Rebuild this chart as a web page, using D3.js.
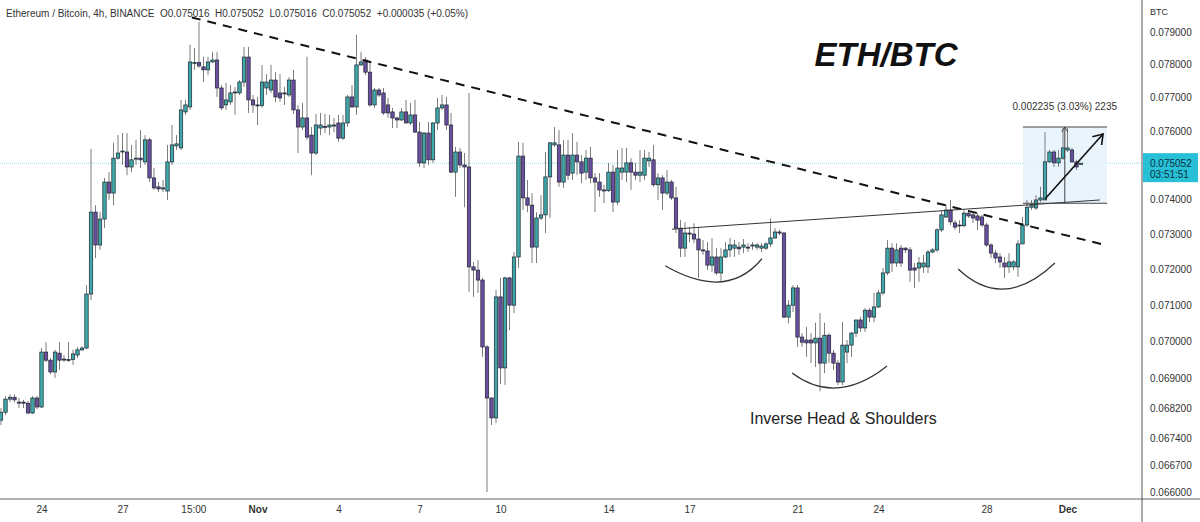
<!DOCTYPE html>
<html lang="en">
<head>
<meta charset="UTF-8">
<title>ETH/BTC 4h</title>
<script src="https://d3js.org/d3.v7.min.js"></script>
<style>
  body { margin: 0; background: #fff; }
  svg { display: block; font-family: "Liberation Sans", Arial, sans-serif; }
</style>
</head>
<body>
<div id="chart"></div>
<script>
const width = 1200;
const height = 522;

// first visible 4h bar, bars are 4 hours apart
const firstBar = Date.UTC(2022, 9, 22, 12);
const barMs = 4 * 3600 * 1000;

// candles: [open, high, low, close]
const candles = [
  [.06788,.06820,.06775,.06809],[.06809,.06852,.06801,.06844],[.06844,.06857,.06836,.06849],[.06849,.06857,.06836,.06842],
  [.06836,.06847,.06820,.06835],[.06836,.06842,.06820,.06833],[.06833,.06839,.06804,.06807],[.06807,.06852,.06804,.06847],
  [.06847,.06852,.06817,.06823],[.06823,.06982,.06820,.06971],[.06971,.06998,.06944,.06949],[.06949,.06955,.06911,.06917],
  [.06917,.06977,.06901,.06971],[.06968,.06998,.06922,.06949],[.06952,.06963,.06944,.06950],[.06950,.06998,.06944,.06951],
  [.06951,.06977,.06936,.06966],[.06963,.06985,.06955,.06977],[.06977,.06987,.06974,.06982],[.06982,.07156,.06979,.07131],
  [.07131,.07547,.07114,.07363],[.07363,.07383,.07232,.07269],[.07269,.07363,.07255,.07343],[.07343,.07462,.07317,.07450],
  [.07450,.07479,.07398,.07418],[.07418,.07565,.07383,.07520],[.07520,.07588,.07515,.07535],[.07538,.07594,.07500,.07541],
  [.07538,.07594,.07470,.07494],[.07494,.07559,.07479,.07515],[.07518,.07574,.07500,.07520],[.07520,.07603,.07491,.07515],
  [.07509,.07588,.07500,.07574],[.07574,.07580,.07450,.07462],[.07462,.07491,.07427,.07433],[.07436,.07450,.07421,.07430],
  [.07430,.07456,.07421,.07433],[.07424,.07559,.07398,.07509],[.07509,.07618,.07500,.07559],[.07556,.07588,.07544,.07562],
  [.07550,.07693,.07544,.07663],[.07657,.07693,.07648,.07678],[.07672,.07861,.07663,.07808],[.07805,.07851,.07784,.07806],
  [.07806,.07931,.07790,.07796],[.07793,.07824,.07747,.07784],[.07784,.07824,.07768,.07808],[.07808,.07839,.07805,.07814],
  [.07814,.07839,.07702,.07729],[.07729,.07738,.07663,.07669],[.07678,.07744,.07663,.07693],[.07687,.07738,.07678,.07714],
  [.07717,.07732,.07648,.07714],[.07714,.07753,.07708,.07747],[.07747,.07854,.07732,.07823],[.07823,.07854,.07654,.07693],
  [.07693,.07708,.07654,.07678],[.07678,.07702,.07618,.07676],[.07676,.07799,.07669,.07747],[.07729,.07771,.07708,.07747],
  [.07723,.07799,.07714,.07753],[.07753,.07777,.07687,.07702],[.07714,.07771,.07687,.07699],[.07714,.07732,.07678,.07712],
  [.07708,.07762,.07702,.07753],[.07753,.07784,.07651,.07663],[.07663,.07678,.07535,.07612],[.07612,.07684,.07603,.07639],
  [.07639,.07824,.07574,.07582],[.07588,.07612,.07470,.07535],[.07535,.07651,.07529,.07618],[.07609,.07654,.07588,.07618],
  [.07614,.07651,.07594,.07612],[.07612,.07648,.07588,.07618],[.07618,.07639,.07597,.07615],[.07624,.07648,.07568,.07579],
  [.07579,.07648,.07574,.07624],[.07624,.07708,.07612,.07702],[.07702,.07738,.07669,.07672],[.07672,.07891,.07648,.07799],
  [.07799,.07839,.07796,.07808],[.07814,.07823,.07768,.07777],[.07777,.07805,.07672,.07678],[.07678,.07729,.07669,.07723],
  [.07723,.07729,.07702,.07708],[.07714,.07729,.07648,.07654],[.07678,.07699,.07639,.07654],[.07657,.07669,.07609,.07639],
  [.07639,.07642,.07609,.07633],[.07633,.07669,.07630,.07657],[.07657,.07693,.07624,.07624],[.07624,.07684,.07618,.07648],
  [.07648,.07693,.07594,.07597],[.07597,.07627,.07494,.07506],[.07506,.07597,.07491,.07594],[.07594,.07627,.07500,.07515],
  [.07515,.07627,.07506,.07624],[.07624,.07699,.07603,.07669],[.07669,.07708,.07663,.07678],[.07678,.07702,.07603,.07618],
  [.07618,.07654,.07476,.07479],[.07479,.07553,.07407,.07538],[.07538,.07550,.07491,.07500],[.07500,.07535,.07377,.07494],
  [.07494,.07714,.07137,.07207],[.07207,.07221,.07123,.07198],[.07198,.07226,.07134,.07170],[.07170,.07176,.06958,.06985],
  [.06985,.06990,.06600,.06847],[.06847,.06849,.06775,.06794],[.06794,.07142,.06780,.07123],[.07123,.07176,.06884,.06928],
  [.06928,.07179,.06882,.07176],[.07176,.07179,.07031,.07100],[.07100,.07249,.07078,.07235],[.07235,.07568,.07204,.07526],
  [.07526,.07565,.07369,.07404],[.07404,.07456,.07363,.07383],[.07383,.07418,.07218,.07263],[.07263,.07363,.07218,.07346],
  [.07346,.07412,.07340,.07355],[.07355,.07538,.07303,.07465],[.07465,.07568,.07346,.07565],[.07559,.07612,.07553,.07565],
  [.07559,.07603,.07436,.07450],[.07450,.07574,.07433,.07529],[.07529,.07574,.07456,.07470],[.07476,.07594,.07456,.07529],
  [.07529,.07568,.07470,.07509],[.07509,.07529,.07447,.07476],[.07479,.07544,.07456,.07520],[.07520,.07553,.07447,.07462],
  [.07462,.07476,.07363,.07450],[.07450,.07476,.07407,.07427],[.07427,.07442,.07389,.07425],[.07425,.07506,.07421,.07479],
  [.07479,.07500,.07363,.07392],[.07392,.07544,.07383,.07491],[.07479,.07550,.07456,.07491],[.07479,.07550,.07450,.07506],
  [.07506,.07520,.07427,.07479],[.07479,.07506,.07456,.07470],[.07470,.07544,.07450,.07479],[.07470,.07544,.07456,.07520],
  [.07512,.07538,.07494,.07520],[.07515,.07559,.07436,.07442],[.07442,.07476,.07398,.07462],[.07462,.07470,.07369,.07418],
  [.07418,.07485,.07412,.07450],[.07450,.07456,.07398,.07404],[.07404,.07436,.07303,.07317],[.07317,.07340,.07235,.07260],
  [.07260,.07334,.07235,.07303],[.07303,.07320,.07277,.07300],[.07300,.07331,.07274,.07286],[.07286,.07320,.07176,.07255],
  [.07255,.07283,.07241,.07252],[.07252,.07277,.07198,.07212],[.07212,.07289,.07193,.07235],[.07235,.07260,.07184,.07190],
  [.07190,.07260,.07165,.07235],[.07235,.07277,.07232,.07255],[.07255,.07289,.07235,.07269],[.07260,.07283,.07235,.07269],
  [.07263,.07277,.07241,.07258],[.07263,.07286,.07246,.07269],[.07263,.07274,.07249,.07262],[.07266,.07277,.07255,.07269],
  [.07263,.07274,.07255,.07269],[.07260,.07274,.07249,.07266],[.07260,.07277,.07255,.07272],[.07272,.07345,.07263,.07289],
  [.07289,.07317,.07286,.07306],[.07306,.07312,.07297,.07303],[.07303,.07306,.07064,.07067],[.07067,.07114,.07050,.07100],
  [.07100,.07156,.07081,.07148],[.07148,.07156,.06985,.07012],[.07012,.07023,.06985,.06998],[.07004,.07040,.06958,.06996],
  [.07004,.07023,.06941,.06996],[.06996,.07051,.06930,.07009],[.07009,.07078,.06865,.06941],[.06941,.07051,.06914,.07017],
  [.07017,.07023,.06941,.06968],[.06968,.06977,.06922,.06941],[.06941,.06949,.06882,.06890],[.06890,.07053,.06882,.06990],
  [.06971,.07004,.06941,.06990],[.06990,.07026,.06958,.07023],[.07023,.07059,.07012,.07059],[.07059,.07067,.07026,.07037],
  [.07037,.07092,.07026,.07086],[.07086,.07092,.07053,.07067],[.07067,.07134,.07053,.07095],[.07095,.07142,.07092,.07134],
  [.07134,.07204,.07128,.07190],[.07190,.07283,.07184,.07260],[.07260,.07274,.07193,.07218],[.07218,.07274,.07207,.07255],
  [.07260,.07269,.07207,.07218],[.07260,.07263,.07246,.07255],[.07255,.07263,.07165,.07198],[.07204,.07218,.07148,.07198],
  [.07204,.07235,.07165,.07218],[.07207,.07241,.07190,.07218],[.07207,.07255,.07190,.07249],[.07249,.07260,.07246,.07255],
  [.07255,.07317,.07249,.07312],[.07312,.07369,.07306,.07355],[.07349,.07383,.07346,.07369],[.07369,.07398,.07326,.07335],
  [.07332,.07340,.07312,.07320],[.07326,.07340,.07303,.07324],[.07324,.07369,.07320,.07360],[.07360,.07369,.07346,.07352],
  [.07355,.07363,.07332,.07346],[.07352,.07360,.07312,.07340],[.07349,.07355,.07320,.07326],[.07326,.07332,.07263,.07269],
  [.07269,.07274,.07232,.07246],[.07246,.07255,.07218,.07232],[.07235,.07246,.07204,.07221],[.07218,.07235,.07176,.07207],
  [.07207,.07246,.07190,.07221],[.07207,.07226,.07198,.07221],[.07207,.07283,.07179,.07272],[.07272,.07349,.07272,.07326],
  [.07326,.07398,.07320,.07377],[.07377,.07398,.07369,.07383],[.07375,.07412,.07369,.07398],[.07398,.07436,.07392,.07404],
  [.07398,.07597,.07398,.07509],[.07509,.07544,.07506,.07538],[.07538,.07544,.07494,.07506],[.07506,.07544,.07494,.07520],
  [.07520,.07609,.07515,.07550],[.07544,.07609,.07538,.07550],[.07544,.07550,.07506,.07509],[.07509,.07515,.07485,.07494],
  [.075016,.075052,.075016,.075052]
];

const priceTicks = [0.079, 0.078, 0.077, 0.076, 0.074, 0.073, 0.072, 0.071, 0.070, 0.069, 0.0682, 0.0674, 0.0667, 0.066];
const dateTicks = [
  ["2022-10-24T00:00Z", "24"], ["2022-10-27T00:00Z", "27"], ["2022-10-29T15:00Z", "15:00"],
  ["2022-11-01T00:00Z", "Nov"], ["2022-11-04T00:00Z", "4"], ["2022-11-07T00:00Z", "7"],
  ["2022-11-10T00:00Z", "10"], ["2022-11-14T00:00Z", "14"], ["2022-11-17T00:00Z", "17"],
  ["2022-11-21T00:00Z", "21"], ["2022-11-24T00:00Z", "24"], ["2022-11-28T00:00Z", "28"],
  ["2022-12-01T00:00Z", "Dec"]
];
const lastPrice = 0.075052;

// drawings, as [bar number from Oct 24, price]
const resistance = [[33.4, 0.07945], [236.3, 0.07269]];
const neckline = [[140.1, 0.07314], [235.2, 0.07398]];
const arcs = [
  [[138.6, 0.07210], [150.8, 0.07165], [160.1, 0.07230]],
  [[166.8, 0.06914], [177.0, 0.06874], [187.9, 0.06933]],
  [[203.7, 0.07201], [214.1, 0.07145], [225.2, 0.07218]]
];
const range = { from: 218.1, to: 236.8, mid: 227.4, top: 0.07612, bottom: 0.073885 };
const moveArrow = [[223.0, 0.07401], [235.9, 0.07591]];

const svg = d3.select("#chart").append("svg")
  .attr("width", width)
  .attr("height", height);

const plotRight = 1142;
const plotBottom = 499;

const x = d3.scaleUtc()
  .domain([new Date(Date.UTC(2022, 9, 24)), new Date(Date.UTC(2022, 11, 1))])
  .range([41.5, 41.5 + 38 * 27]);

const y = d3.scaleLog()
  .domain([0.066, 0.079])
  .range([492, 32]);

const barTime = i => new Date(firstBar + i * barMs);
// drawings are indexed from Oct 24 00:00
const bx = b => x(new Date(Date.UTC(2022, 9, 24) + b * barMs));

const upFill = "#3fa9a9", downFill = "#6a4fa0";

const plot = svg.append("g");

// current price line
plot.append("line")
  .attr("x1", 0).attr("x2", plotRight)
  .attr("y1", y(lastPrice)).attr("y2", y(lastPrice))
  .attr("stroke", "#8fd8e8").attr("stroke-width", 1)
  .attr("stroke-dasharray", "1,1");

// range box
plot.append("rect")
  .attr("x", bx(range.from)).attr("width", bx(range.to) - bx(range.from))
  .attr("y", y(range.top)).attr("height", y(range.bottom) - y(range.top))
  .attr("fill", "#e3f1fb").attr("opacity", 0.8);

const bars = plot.selectAll(".bar")
  .data(candles)
  .enter()
  .append("g")
  .attr("class", "bar")
  .attr("transform", (d, i) => `translate(${x(barTime(i))},0)`);

bars.append("line")
  .attr("y1", d => y(Math.max(d[1], d[0], d[3])))
  .attr("y2", d => y(Math.min(d[2], d[0], d[3])))
  .attr("stroke", "#7d7d7d")
  .attr("stroke-width", 1);

bars.append("rect")
  .attr("x", -1.7)
  .attr("width", 3.4)
  .attr("y", d => y(Math.max(d[0], d[3])))
  .attr("height", d => Math.max(1, y(Math.min(d[0], d[3])) - y(Math.max(d[0], d[3]))))
  .attr("fill", d => d[3] >= d[0] ? upFill : downFill)
  .attr("stroke", "#1d2330")
  .attr("stroke-width", 0.7);

// trend lines
plot.append("line")
  .attr("x1", bx(resistance[0][0])).attr("y1", y(resistance[0][1]))
  .attr("x2", bx(resistance[1][0])).attr("y2", y(resistance[1][1]))
  .attr("stroke", "#111").attr("stroke-width", 2)
  .attr("stroke-dasharray", "9,7");

plot.append("line")
  .attr("x1", bx(neckline[0][0])).attr("y1", y(neckline[0][1]))
  .attr("x2", bx(neckline[1][0])).attr("y2", y(neckline[1][1]))
  .attr("stroke", "#333").attr("stroke-width", 1);

// shoulder / head arcs
arcs.forEach(pts => {
  const p = pts.map(d => [bx(d[0]), y(d[1])]);
  const cx = 2 * p[1][0] - (p[0][0] + p[2][0]) / 2;
  const cy = 2 * p[1][1] - (p[0][1] + p[2][1]) / 2;
  const path = d3.path();
  path.moveTo(p[0][0], p[0][1]);
  path.quadraticCurveTo(cx, cy, p[2][0], p[2][1]);
  plot.append("path")
    .attr("d", path.toString())
    .attr("fill", "none")
    .attr("stroke", "#333").attr("stroke-width", 1.2);
});

// range measurement lines
[range.top, range.bottom].forEach(v => {
  plot.append("line")
    .attr("x1", bx(range.from)).attr("x2", bx(range.to))
    .attr("y1", y(v)).attr("y2", y(v))
    .attr("stroke", "#444").attr("stroke-width", 1);
});
plot.append("line")
  .attr("x1", bx(range.mid)).attr("x2", bx(range.mid))
  .attr("y1", y(range.bottom)).attr("y2", y(range.top))
  .attr("stroke", "#444").attr("stroke-width", 1);
plot.append("path")
  .attr("d", `M${bx(range.mid) - 3},${y(range.top) + 5}L${bx(range.mid)},${y(range.top)}L${bx(range.mid) + 3},${y(range.top) + 5}`)
  .attr("fill", "none").attr("stroke", "#444");

plot.append("text")
  .attr("x", bx(range.mid)).attr("y", y(range.top) - 17)
  .attr("text-anchor", "middle")
  .attr("font-size", 10).attr("fill", "#333")
  .text("0.002235 (3.03%) 2235");

// arrow of the breakout move
const a0 = [bx(moveArrow[0][0]), y(moveArrow[0][1])];
const a1 = [bx(moveArrow[1][0]), y(moveArrow[1][1])];
const ang = Math.atan2(a1[1] - a0[1], a1[0] - a0[0]);
const head = s => [a1[0] - 11 * Math.cos(ang + s), a1[1] - 11 * Math.sin(ang + s)];
plot.append("line")
  .attr("x1", a0[0]).attr("y1", a0[1]).attr("x2", a1[0]).attr("y2", a1[1])
  .attr("stroke", "#111").attr("stroke-width", 1.6);
plot.append("path")
  .attr("d", `M${head(0.6)}L${a1}L${head(-0.6)}`)
  .attr("fill", "none").attr("stroke", "#111").attr("stroke-width", 1.6);

// labels
svg.append("text")
  .attr("x", 6).attr("y", 17)
  .attr("font-size", 10).attr("fill", "#333")
  .attr("xml:space", "preserve")
  .text("Ethereum / Bitcoin, 4h, BINANCE  O0.075016  H0.075052  L0.075016  C0.075052  +0.000035 (+0.05%)");

svg.append("text")
  .attr("x", 886).attr("y", 66)
  .attr("text-anchor", "middle")
  .attr("font-size", 33).attr("font-weight", "bold").attr("font-style", "italic")
  .attr("fill", "#111")
  .text("ETH/BTC");

svg.append("text")
  .attr("x", 750).attr("y", 424)
  .attr("font-size", 16).attr("fill", "#222")
  .text("Inverse Head & Shoulders");

// axes
const yAxis = svg.append("g")
  .attr("transform", `translate(${plotRight},0)`)
  .call(d3.axisRight(y).tickValues(priceTicks).tickSize(0).tickPadding(8).tickFormat(d3.format(".6f")));
yAxis.select(".domain").remove();
yAxis.selectAll("text").attr("font-size", 10).attr("fill", "#333").attr("font-family", "Liberation Sans, Arial, sans-serif");

const xAxis = svg.append("g")
  .attr("transform", `translate(0,${plotBottom})`)
  .call(d3.axisBottom(x).tickValues(dateTicks.map(d => new Date(d[0]))).tickSize(0).tickPadding(7)
    .tickFormat((d, i) => dateTicks[i][1]));
xAxis.select(".domain").remove();
xAxis.selectAll("text").attr("font-size", 10).attr("fill", "#333")
  .attr("font-family", "Liberation Sans, Arial, sans-serif")
  .attr("font-weight", (d, i) => dateTicks[i][1] === "Nov" || dateTicks[i][1] === "Dec" ? "bold" : "normal");

svg.append("line")
  .attr("x1", 0).attr("x2", width)
  .attr("y1", plotBottom).attr("y2", plotBottom)
  .attr("stroke", "#999").attr("stroke-width", 1.5);

svg.append("line")
  .attr("x1", plotRight).attr("x2", plotRight)
  .attr("y1", 0).attr("y2", height)
  .attr("stroke", "#555").attr("stroke-width", 1);

svg.append("text")
  .attr("x", 1150).attr("y", 15)
  .attr("font-size", 9).attr("fill", "#333")
  .text("BTC");

// last price tag
const tag = svg.append("g").attr("transform", `translate(${plotRight + 1},${y(lastPrice)})`);
tag.append("rect")
  .attr("x", 0).attr("y", -10).attr("width", 55).attr("height", 29)
  .attr("fill", "#27c0d6");
tag.append("text")
  .attr("x", 7).attr("y", 4)
  .attr("font-size", 10).attr("fill", "#0c3140")
  .text(d3.format(".6f")(lastPrice));
tag.append("text")
  .attr("x", 7).attr("y", 15)
  .attr("font-size", 10).attr("fill", "#0c3140")
  .text("03:51:51");
</script>
</body>
</html>
